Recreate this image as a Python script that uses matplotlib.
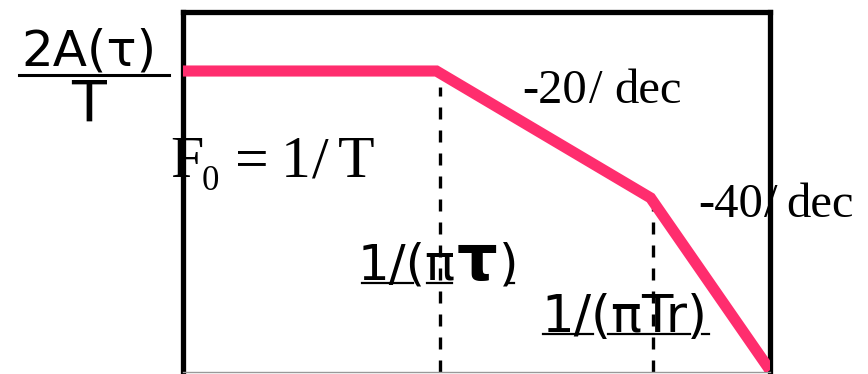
import matplotlib
matplotlib.use("Agg")
import matplotlib.pyplot as plt
from matplotlib.lines import Line2D

# asymptotic magnitude spectrum of a trapezoidal pulse train
freq = [1.0, 12.0, 98.0, 316.0]          # Hz, log axis
gain_db = [0.0, 0.0, -21.5, -50.7]       # dB
knee_freq = [12.4, 100.0]
knee_gain = [-2.7, -21.5]

PINK = "#FF2D6E"
W, H = 868, 374


def fx(px):
    return px / W


def fy(py):
    return 1 - py / H


def txt(x, y, s, **kw):
    kw.setdefault("ha", "left")
    kw.setdefault("va", "baseline")
    fig.text(fx(x), fy(y), s, **kw)


def uline(x0, x1, y, lw=1.6):
    fig.add_artist(Line2D([fx(x0), fx(x1)], [fy(y), fy(y)],
                          color="black", lw=lw))


fig = plt.figure(figsize=(8.68, 3.74), dpi=100)
ax = fig.add_axes([fx(183), fy(372), fx(770) - fx(183), fy(12) - fy(372)])
ax.set_xscale("log")
ax.set_xlim(1.0, 316.0)
ax.set_ylim(-51, 10)
ax.set_xticks([])
ax.set_yticks([])
ax.minorticks_off()

for side in ["left", "top", "right"]:
    ax.spines[side].set_linewidth(3.8)
    ax.spines[side].set_color("black")
ax.spines["bottom"].set_linewidth(1.0)
ax.spines["bottom"].set_color("#999999")

ax.plot(freq, gain_db, color=PINK, lw=8, solid_joinstyle="miter",
        solid_capstyle="butt", zorder=3)

ax.vlines(knee_freq, -51, knee_gain, colors="black", lw=2.4,
          linestyles=[(0, (3.6, 3.3))], zorder=2)

sans = "DejaVu Sans"
serif = "Liberation Serif"

# left-hand level label as a fraction
txt(89, 66, "2A(τ)", family=sans, fontsize=36, ha="center")
txt(89, 122, "T", family=sans, fontsize=41, ha="center")
uline(19, 169, 75, lw=2.2)

# fundamental
txt(170, 177, "F", family=serif, fontsize=43)
txt(202, 190, "0", family=serif, fontsize=25)
txt(235, 177, "=", family=serif, fontsize=43)
txt(281, 177, "1", family=serif, fontsize=43)
txt(312, 177, "/", family=serif, fontsize=43)
txt(338, 177, "T", family=serif, fontsize=43)

# slopes
txt(522, 103, "-20", family=serif, fontsize=35)
txt(589, 103, "/", family=serif, fontsize=35)
txt(614, 103, "dec", family=serif, fontsize=35)
txt(698, 217, "-40", family=serif, fontsize=35)
txt(764, 217, "/", family=serif, fontsize=35)
txt(786, 217, "dec", family=serif, fontsize=35)

# corner frequencies
txt(358, 280, "1/(π", family=sans, fontsize=36)
txt(457, 280, "τ", family=sans, fontsize=46, weight="bold")
txt(499, 280, ")", family=sans, fontsize=36)
txt(541, 332, "1/(πTr)", family=sans, fontsize=37)

underlines = [
    (362, 413, 283), (427, 452, 283), (508, 514, 283),
    (543, 593, 334), (608, 690, 334), (702, 709, 334),
]
for x0, x1, y in underlines:
    uline(x0, x1, y)

fig.savefig("out.png", dpi=100)
